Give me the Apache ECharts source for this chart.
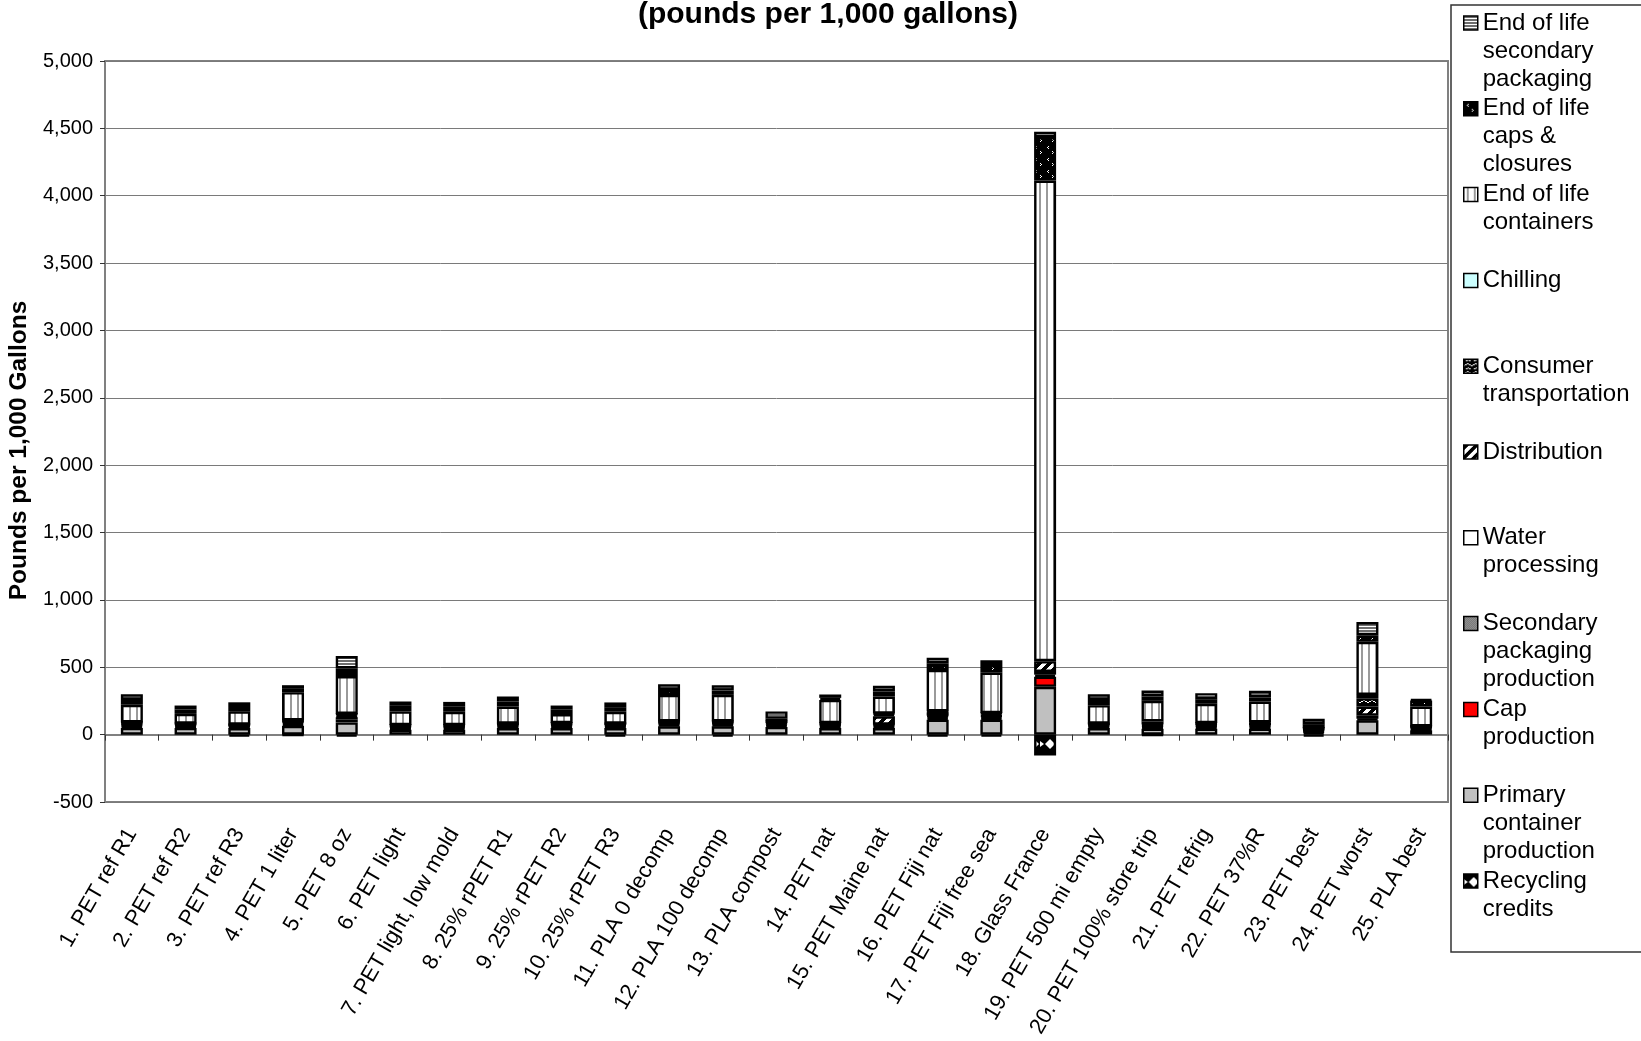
<!DOCTYPE html>
<html><head><meta charset="utf-8">
<script src="https://cdn.jsdelivr.net/npm/echarts@6/dist/echarts.min.js"></script>
<style>html,body{margin:0;padding:0;background:#fff}#c{width:1641px;height:1041px}</style>
</head><body><div id="c"></div>
<script>
const categories = ["1. PET ref R1","2. PET ref R2","3. PET ref R3","4. PET 1 liter","5. PET 8 oz","6. PET light","7. PET light, low mold","8. 25% rPET R1","9. 25% rPET R2","10. 25% rPET R3","11. PLA 0 decomp","12. PLA 100 decomp","13. PLA compost","14. PET nat","15. PET Maine nat","16. PET Fiji nat","17. PET Fiji free sea","18. Glass France","19. PET 500 mi empty","20. PET 100% store trip","21. PET refrig","22. PET 37%R","23. PET best","24. PET worst","25. PLA best"];
const recyclingCredits = [0,0,-15,-5,-15,0,0,0,0,-15,0,-15,0,0,0,-15,-15,-155,0,-5,0,0,-15,0,0];
const primaryContainer = [50,50,49,66,91,37,37,49,49,49,62,62,57,49,49,111,111,355,49,44,44,44,15,106,32];
const capProduction = [10,8,8,12,20,8,8,8,8,8,10,10,10,8,8,12,12,75,8,8,8,8,8,12,8];
const secondaryPackaging = [12,10,8,12,18,10,10,10,12,10,10,10,12,12,12,12,12,15,10,10,12,12,10,22,10];
const waterProcessing = [5,5,4,6,8,5,5,5,5,5,5,5,5,5,5,6,6,20,5,5,5,5,5,0,5];
const distribution = [12,8,5,8,14,9,9,8,10,8,9,9,10,10,62,25,15,80,8,8,10,18,8,69,6];
const consumerTransport = [2,1,1,2,2,2,2,1,2,1,2,2,2,2,14,6,4,0,1,23,3,4,2,62,1];
const chilling = [0,0,0,0,0,0,0,0,0,0,0,0,0,0,6,0,0,0,0,0,4,0,0,24,0];
const eolContainers = [130,72,98,209,282,101,98,128,67,89,197,197,4,172,127,308,300,3568,138,153,143,155,0,394,147];
const eolCaps = [37,32,32,30,57,42,42,37,32,34,37,32,18,15,37,49,57,322,39,32,34,30,30,49,44];
const eolSecondary = [42,30,35,22,91,32,32,37,31,35,42,40,54,25,42,42,36,40,42,44,45,49,40,98,10];
const yTicks = {min:-500, max:5000, interval:500};

const FONT = '"Liberation Sans", Arial, sans-serif';
function pat(w,h,draw){const c=document.createElement('canvas');c.width=w;c.height=h;const g=c.getContext('2d');draw(g,w,h);return {image:c,repeat:'repeat'};}
function px(g,col,pts){g.fillStyle=col;pts.forEach(p=>g.fillRect(p[0],p[1],1,1));}
const P = {
  eolSec: pat(4,3,(g)=>{g.fillStyle='#fff';g.fillRect(0,0,4,3);g.fillStyle='#6e6e6e';g.fillRect(0,0,4,2);}),
  eolCaps: pat(12,12,(g)=>{g.fillStyle='#000';g.fillRect(0,0,12,12);px(g,'#fff',[[4,2],[3,3],[4,4],[8,7],[9,8],[8,9]]);}),
  eolCont: pat(7,4,(g)=>{g.fillStyle='#fff';g.fillRect(0,0,7,4);g.fillStyle='#9a9a9a';g.fillRect(3,0,2,4);}),
  chill: '#CCFFFF',
  consumer: pat(8,8,(g)=>{g.fillStyle='#000';g.fillRect(0,0,8,8);px(g,'#fff',[[0,6],[1,5],[2,5],[3,4],[4,4],[5,5],[6,5],[7,6],[2,1],[3,1],[4,0],[5,1],[6,1]]);}),
  dist: pat(10,10,(g)=>{g.fillStyle='#fff';g.fillRect(0,0,10,10);g.fillStyle='#000';for(let x=0;x<10;x++)for(let y=0;y<10;y++){if((x+y)%10<5)g.fillRect(x,y,1,1);}}),
  water: '#ffffff',
  secPkg: pat(2,2,(g)=>{g.fillStyle='#d0d0d0';g.fillRect(0,0,2,2);g.fillStyle='#3a3a3a';g.fillRect(0,0,1,1);g.fillRect(1,1,1,1);}),
  cap: '#FF0000',
  primary: '#C0C0C0',
  recycling: pat(16,16,(g)=>{g.fillStyle='#000';g.fillRect(0,0,16,16);g.fillStyle='#fff';g.beginPath();g.moveTo(10,3);g.lineTo(15,8);g.lineTo(10,13);g.lineTo(5,8);g.closePath();g.fill();g.beginPath();g.moveTo(0,5);g.lineTo(4,8);g.lineTo(0,11);g.closePath();g.fill();})
};

const seriesDefs = [
  {name:'Recycling\ncredits', data:recyclingCredits, fill:P.recycling},
  {name:'Primary\ncontainer\nproduction', data:primaryContainer, fill:P.primary},
  {name:'Cap\nproduction', data:capProduction, fill:P.cap},
  {name:'Secondary\npackaging\nproduction', data:secondaryPackaging, fill:P.secPkg},
  {name:'Water\nprocessing', data:waterProcessing, fill:P.water},
  {name:'Distribution', data:distribution, fill:P.dist},
  {name:'Consumer\ntransportation', data:consumerTransport, fill:P.consumer},
  {name:'Chilling', data:chilling, fill:P.chill},
  {name:'End of life\ncontainers', data:eolContainers, fill:P.eolCont},
  {name:'End of life\ncaps &\nclosures', data:eolCaps, fill:P.eolCaps},
  {name:'End of life\nsecondary\npackaging', data:eolSecondary, fill:P.eolSec}
];

const series = seriesDefs.map(d => ({
  name:d.name, type:'bar', stack:'total', xAxisIndex:0, yAxisIndex:0, barWidth:22,
  data:d.data.map(v => v === 0 ? null : v),
  itemStyle:{color:d.fill, borderColor:'#000', borderWidth:2.4},
  emphasis:{disabled:true}
}));

const LH = 28;
const legends = seriesDefs.slice().reverse().map((d,i) => {
  const n = d.name.split('\n').length;
  const H = (2*n-1)*LH;
  return {
    data:[d.name], left:1463, top:23 + 85.8*i - H/2, padding:0, orient:'vertical',
    itemWidth:14, itemHeight:14, itemGap:0, selectedMode:false, icon:'rect',
    formatter: name => '\n'.repeat(n-1) + name,
    itemStyle:{borderColor:'#000', borderWidth:1.5},
    textStyle:{fontFamily:FONT, fontSize:24, lineHeight:LH, color:'#000'}
  };
});

const chart = echarts.init(document.getElementById('c'), null, {renderer:'canvas'});
chart.setOption({
  animation:false,
  backgroundColor:'#fff',
  title:{text:'(pounds per 1,000 gallons)', left:828, top:0, padding:0, textAlign:'center',
    textStyle:{fontFamily:FONT, fontSize:30, fontWeight:'bold', color:'#000'}},
  legend:legends,
  graphic:[{type:'rect', shape:{x:1451, y:5, width:210, height:947}, style:{fill:'none', stroke:'#333', lineWidth:1.5}, z:-1}],
  grid:{left:105, right:193, top:61, bottom:239, show:true, borderColor:'#808080', borderWidth:2, outerBoundsMode:'none', containLabel:false},
  xAxis:[
    {type:'category', data:categories, position:'top', axisLine:{onZero:true, lineStyle:{color:'#808080', width:2}},
     axisTick:{show:true, inside:true, length:6, interval:0, lineStyle:{color:'#333', width:1}},
     axisLabel:{show:false}, splitLine:{show:false}},
    {type:'category', data:categories, position:'bottom', axisLine:{show:false, onZero:false}, axisTick:{show:false},
     axisLabel:{interval:0, rotate:60, margin:28, fontFamily:FONT, fontSize:22, color:'#000'}, splitLine:{show:false}}
  ],
  yAxis:{type:'value', min:yTicks.min, max:yTicks.max, interval:yTicks.interval,
    name:'Pounds per 1,000 Gallons', nameLocation:'middle', nameGap:61,
    nameTextStyle:{fontFamily:FONT, fontSize:24.5, fontWeight:'bold', color:'#000', padding:[0,38,0,0]},
    axisLine:{show:true, lineStyle:{color:'#808080', width:2}},
    axisTick:{show:true, length:5, lineStyle:{color:'#333'}},
    axisLabel:{fontFamily:FONT, fontSize:20, color:'#000', margin:12, formatter:v => v.toLocaleString('en-US')},
    splitLine:{show:true, lineStyle:{color:'#7a7a7a', width:1}}},
  series:series
});
</script></body></html>
